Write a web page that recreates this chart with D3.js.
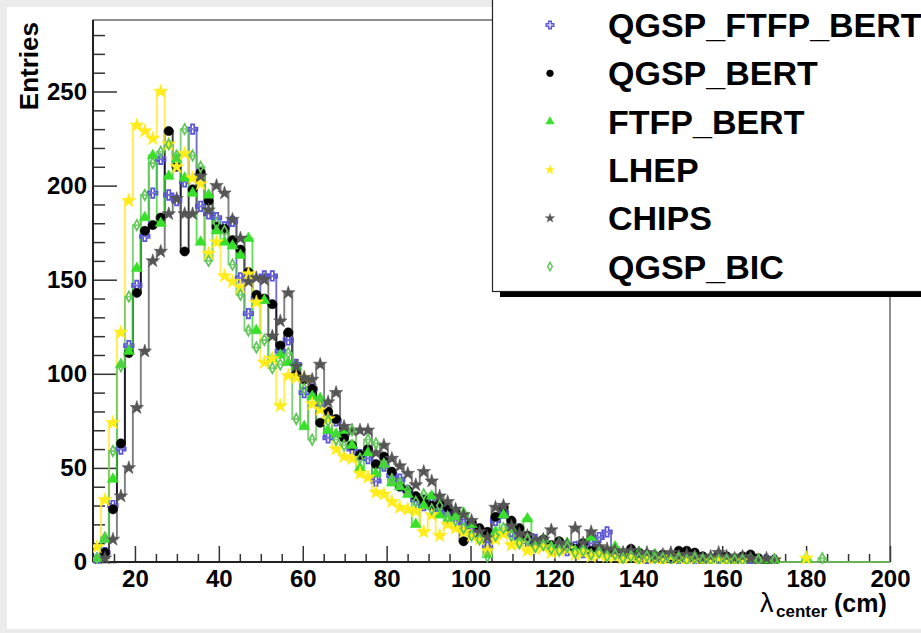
<!DOCTYPE html>
<html><head><meta charset="utf-8">
<script src="https://cdn.jsdelivr.net/npm/d3@7"></script>
<style>
html,body{margin:0;padding:0;background:#ebebeb;overflow:hidden;}
svg{display:block;}
text{font-family:"Liberation Sans",Arial,Helvetica,sans-serif;font-weight:bold;fill:#000;}
</style></head><body>
<svg id="c" width="921" height="633"></svg>
<script>
// ---- data ----
const binLow = 10, binHigh = 200, nBins = 100;
const xMajorTicks = [20,40,60,80,100,120,140,160,180,200];
const yMajorTicks = [0,50,100,150,200,250];
const seriesNames = ["QGSP_FTFP_BERT","QGSP_BERT","FTFP_BERT","LHEP","CHIPS","QGSP_BIC"];

const qgspFtfpBert = [1,5,30,60,115,147,173,196,214,195,
 192,202,230,189,185,183,178,181,151,132,
 140,152,152,112,118,105,90,92,84,66,
 75,68,60,57,55,43,51,46,44,38,
 33,30,34,28,26,24,20,18,16,8,
 22,26,16,12,11,12,9,8,7,6,
 8,5,10,13,16,4,3,4,3,2,
 3,2,3,2,2,1,2,1,2,1,
 1,1,2,1,1,1,0,0,0,0,
 0,0,0,0,0,0,0,0,0,0];
const qgspBert = [0,5,28,63,111,143,176,179,183,229,
 210,165,198,207,192,178,177,171,166,154,
 142,140,137,115,122,100,97,92,74,80,
 76,66,62,57,60,52,56,48,40,38,
 35,33,30,31,29,26,11,21,18,16,
 24,29,22,18,14,10,12,9,11,8,
 7,10,6,7,5,6,4,7,5,4,
 3,4,3,6,6,5,3,2,4,3,
 2,3,4,2,1,1,0,0,0,0,
 0,0,0,0,0,0,0,0,0,0];
const ftfpBert = [2,12,44,105,112,156,183,216,180,205,
 214,204,196,170,195,176,170,168,163,172,
 123,139,108,110,106,104,72,88,87,70,
 68,70,62,50,58,47,52,42,40,36,
 20,30,35,25,22,24,26,20,14,4,
 16,25,18,12,23,10,12,8,10,10,
 6,8,13,6,5,8,5,4,5,3,
 4,3,4,3,2,3,2,2,3,1,
 2,1,2,1,1,1,0,0,0,2,
 0,0,0,0,0,0,0,0,0,0];
const lhep = [8,33,74,122,192,232,229,225,250,222,
 210,217,204,201,164,170,152,149,146,153,
 138,106,108,83,99,98,98,84,81,76,
 60,56,55,47,45,37,36,32,29,28,
 27,16,25,14,20,18,16,14,12,6,
 12,15,9,10,6,7,8,5,6,7,
 4,5,3,4,3,3,2,3,1,2,
 2,1,3,2,1,2,1,1,2,1,
 1,1,0,1,0,1,0,0,0,2,
 0,0,0,0,0,0,0,0,0,0];
const chips = [0,2,12,35,50,82,112,160,165,185,
 193,185,185,205,187,200,196,182,172,149,
 151,150,120,128,143,104,98,97,105,85,
 90,72,70,70,70,58,62,55,51,47,
 41,48,43,35,32,28,25,22,16,13,
 29,30,19,15,14,11,12,17,10,9,
 18,10,16,8,7,6,5,6,4,5,
 3,4,5,3,4,3,2,3,5,3,
 2,3,2,1,2,1,0,0,0,0,
 0,0,0,0,0,0,0,0,0,0];
const qgspBic = [2,13,59,104,141,179,195,212,218,222,
 216,230,216,210,160,180,176,158,142,123,
 114,118,103,105,111,76,92,65,85,75,
 65,62,70,55,65,63,52,44,42,38,
 32,36,28,30,24,22,18,14,12,3,
 14,18,14,10,12,8,9,7,6,8,
 5,6,4,5,3,4,2,3,2,3,
 2,2,1,2,1,2,1,1,1,1,
 1,1,0,1,0,1,0,0,0,0,
 0,2,0,0,0,0,0,0,0,0];

// ---- custom marker shapes ----
const openCross = {draw(ctx, s){ const w = s/3;
  ctx.moveTo(-w,-s); ctx.lineTo(w,-s); ctx.lineTo(w,-w); ctx.lineTo(s,-w); ctx.lineTo(s,w);
  ctx.lineTo(w,w); ctx.lineTo(w,s); ctx.lineTo(-w,s); ctx.lineTo(-w,w); ctx.lineTo(-s,w);
  ctx.lineTo(-s,-w); ctx.lineTo(-w,-w); ctx.closePath(); }};
const narrowDiamond = {draw(ctx, s){ ctx.moveTo(0,-s); ctx.lineTo(0.55*s,0); ctx.lineTo(0,s); ctx.lineTo(-0.55*s,0); ctx.closePath(); }};

const series = [
  {name: seriesNames[0], values: qgspFtfpBert, color: "#5954d8", line: "#4b47c0", type: openCross, size: 4.8, legSize: 3.8, open: true},
  {name: seriesNames[1], values: qgspBert, color: "#000000", line: "#000000", type: d3.symbolCircle, size: 66, legSize: 36, open: false},
  {name: seriesNames[2], values: ftfpBert, color: "#38e02a", line: "#38d82a", type: d3.symbolTriangle, size: 52, legSize: 30, open: false},
  {name: seriesNames[3], values: lhep, color: "#ffec1a", line: "#ffe826", type: d3.symbolStar, size: 62, legSize: 26, open: false},
  {name: seriesNames[4], values: chips, color: "#555555", line: "#5a5a5a", type: d3.symbolStar, size: 56, legSize: 26, open: false},
  {name: seriesNames[5], values: qgspBic, color: "#5ec655", line: "#62c458", type: narrowDiamond, size: 5.2, legSize: 4.2, open: true}
];

// ---- layout ----
const svg = d3.select("#c");
const L = 93, R = 890, T = 20, B = 562;
const x = d3.scaleLinear().domain([binLow, binHigh]).range([L, R]);
const y = d3.scaleLinear().domain([0, 288]).range([B, T]);
const bw = (binHigh - binLow) / nBins;

// background canvas
svg.append("rect").attr("x",0).attr("y",0).attr("width",921).attr("height",633).attr("fill","#ebebeb");
svg.append("rect").attr("x",7).attr("y",7).attr("width",914).attr("height",622).attr("fill","#ffffff");

// clip
svg.append("clipPath").attr("id","pc").append("rect").attr("x",L).attr("y",T-8).attr("width",R-L).attr("height",B-T+10);

// axes minor ticks
const gx = svg.append("g").attr("transform",`translate(0,${B})`);
gx.call(d3.axisBottom(x).tickValues(d3.range(15,200,5).filter(v=>v%20!==0)).tickSizeInner(-8).tickSizeOuter(0).tickFormat(""));
gx.call(g=>g.select(".domain").remove());
const gx2 = svg.append("g").attr("transform",`translate(0,${B})`);
gx2.call(d3.axisBottom(x).tickValues(xMajorTicks).tickSizeInner(-16).tickSizeOuter(0).tickPadding(8).tickFormat(d3.format("d")));
gx2.select(".domain").remove();
gx2.selectAll("text").attr("font-size",24).attr("font-family","Liberation Sans, Arial, sans-serif").attr("font-weight","bold").attr("fill","#000");

const gy = svg.append("g").attr("transform",`translate(${L},0)`);
gy.call(d3.axisLeft(y).tickValues(d3.range(10,290,10).filter(v=>v%50!==0)).tickSizeInner(-12).tickSizeOuter(0).tickFormat(""));
gy.select(".domain").remove();
const gy2 = svg.append("g").attr("transform",`translate(${L},0)`);
gy2.call(d3.axisLeft(y).tickValues(yMajorTicks).tickSizeInner(-24).tickSizeOuter(0).tickPadding(6).tickFormat(d3.format("d")));
gy2.select(".domain").remove();
gy2.selectAll("text").attr("font-size",24).attr("font-family","Liberation Sans, Arial, sans-serif").attr("font-weight","bold").attr("fill","#000");
svg.selectAll(".tick line").attr("stroke","#333").attr("stroke-width",1.5);

// frame
svg.append("rect").attr("x",L).attr("y",T).attr("width",R-L).attr("height",B-T)
  .attr("fill","none").attr("stroke","#444").attr("stroke-width",1.2);
svg.append("line").attr("x1",L).attr("x2",L).attr("y1",T).attr("y2",B).attr("stroke","#222").attr("stroke-width",2);
svg.append("line").attr("x1",L).attr("x2",R).attr("y1",B).attr("y2",B).attr("stroke","#222").attr("stroke-width",2);

// series
const plot = svg.append("g").attr("clip-path","url(#pc)");
const line = d3.line().x(d=>x(d[0])).y(d=>y(d[1]));
series.forEach(s=>{
  const pts = [];
  s.values.forEach((v,i)=>{ const lo = binLow + i*bw; pts.push([lo,v]); pts.push([lo+bw,v]); });
  plot.append("path").attr("d", line(pts)).attr("fill","none")
    .attr("stroke", s.line).attr("stroke-width",1.9).attr("stroke-opacity",0.78).attr("stroke-linejoin","miter");
});
series.forEach(s=>{
  const sym = d3.symbol().type(s.type).size(s.size);
  const data = s.values.map((v,i)=>({xc: binLow + (i+0.5)*bw, v})).filter(d=>d.v>0);
  plot.selectAll(null).data(data).enter().append("path")
    .attr("d", sym)
    .attr("transform", d=>`translate(${x(d.xc)},${y(d.v)})`)
    .attr("fill", s.open ? "none" : s.color)
    .attr("stroke", s.color)
    .attr("stroke-width", s.open ? 1.7 : 0.6);
});

// axis titles
svg.append("text").attr("transform","translate(38,22) rotate(-90)").attr("text-anchor","end")
  .attr("font-size",26).text("Entries");
const xt = svg.append("text").attr("y",612).attr("font-size",25);
xt.append("tspan").attr("x",760).attr("font-weight","normal").attr("font-size",27).text("λ");
xt.append("tspan").attr("x",776).attr("dy",5).attr("font-size",17).text("center");
xt.append("tspan").attr("x",834).attr("dy",-5).text("(cm)");

// legend
svg.append("rect").attr("x",500).attr("y",-10).attr("width",460).attr("height",307).attr("fill","#000");
svg.append("rect").attr("x",492.5).attr("y",-10).attr("width",460).attr("height",301.5)
  .attr("fill","#fff").attr("stroke","#222").attr("stroke-width",1.2);
series.forEach((s,i)=>{
  const cy = 25 + i*48.3;
  svg.append("path").attr("d", d3.symbol().type(s.type).size(s.legSize)())
    .attr("transform",`translate(550,${cy})`)
    .attr("fill", s.open ? "none" : s.color).attr("stroke", s.color).attr("stroke-width", s.open?1.4:0.5);
  svg.append("text").attr("x",608).attr("y",cy+12).attr("font-size",34).text(s.name);
});
</script>
</body></html>
